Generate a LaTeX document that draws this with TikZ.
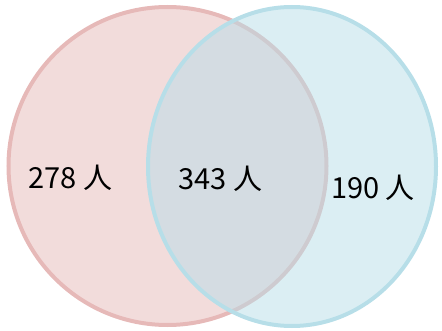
\documentclass[tikz,border=0pt]{standalone}
\usepackage{fontspec}
\newfontfamily\jpfont{Noto Sans CJK JP}
\usetikzlibrary{shapes.geometric}
\definecolor{pinkc}{HTML}{E6B9B8}
\definecolor{bluec}{HTML}{B7DEE8}
\tikzset{
  setshape/.style={ellipse, inner sep=0pt, line width=4pt, fill opacity=0.5},
  count/.style={font=\jpfont\fontsize{29}{29}\selectfont, anchor=base, inner sep=0pt}
}
\begin{document}
\begin{tikzpicture}[x=1pt,y=-1pt]
\useasboundingbox (0,0) rectangle (442,331);
\node[setshape, draw=pinkc, fill=pinkc, minimum width=318pt, minimum height=318pt] (L) at (167.5,166) {};
\node[setshape, draw=bluec, fill=bluec, minimum width=288pt, minimum height=319pt] (R) at (292,166.5) {};
\node[count] (a) at (70.5,189) {278 人};
\node[count] (b) at (220.5,190) {343 人};
\node[count] (c) at (373,199) {190 人};
\end{tikzpicture}
\end{document}
